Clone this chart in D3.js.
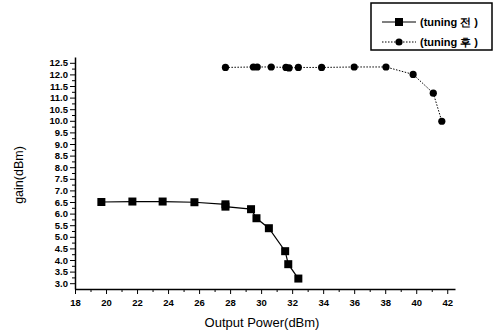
<!DOCTYPE html>
<html>
<head>
<meta charset="utf-8">
<script src="https://cdn.jsdelivr.net/npm/d3@7"></script>
<style>
  body { margin: 0; background: #fff; }
  svg { display: block; font-family: 'Liberation Sans', Arial, sans-serif; }
  .tick text { font-weight: bold; font-size: 9.5px; fill: #000; }
</style>
</head>
<body>
<svg id="chart" width="494" height="333"></svg>
<script>
// data
const beforeX = [19.7, 21.7, 23.65, 25.7, 27.7, 27.7, 29.35, 29.7, 30.5, 31.55, 31.75, 32.4];
const beforeY = [6.5, 6.52, 6.52, 6.49, 6.4, 6.3, 6.19, 5.8, 5.37, 4.38, 3.82, 3.2];
const afterX = [27.7, 29.5, 29.75, 30.65, 31.6, 31.8, 32.4, 33.9, 36.0, 38.05, 39.8, 41.1, 41.65];
const afterY = [12.3, 12.32, 12.32, 12.32, 12.3, 12.28, 12.3, 12.3, 12.32, 12.32, 12.0, 11.19, 9.98];
const seriesNames = ['(tuning 전 )', '(tuning 후 )'];
const xMajor = d3.range(18, 43, 2);
const xMinor = d3.range(19, 43, 2);
const yMajor = d3.range(3, 12.51, 0.5);
const yMinor = d3.range(3.25, 12.6, 0.5);

const svg = d3.select('#chart');
const x = d3.scaleLinear().domain([18, 42.5]).range([75, 455]);
const y = d3.scaleLinear().domain([2.75, 12.75]).range([289, 57]);

// axes
svg.append('g')
  .attr('transform', 'translate(0,289)')
  .call(d3.axisBottom(x).tickValues(xMajor).tickSize(5).tickSizeOuter(0).tickPadding(5).tickFormat(d3.format('d')))
  .call(g => g.select('.domain').attr('stroke-width', 1.5));
svg.append('g')
  .attr('transform', 'translate(0,289)')
  .call(d3.axisBottom(x).tickValues(xMinor).tickSize(3).tickFormat(''))
  .call(g => g.select('.domain').remove());

svg.append('g')
  .attr('transform', 'translate(75,0)')
  .call(d3.axisLeft(y).tickValues(yMajor).tickSize(5).tickSizeOuter(0).tickPadding(2).tickFormat(d3.format('.1f')))
  .call(g => g.select('.domain').attr('stroke-width', 1.5));
svg.append('g')
  .attr('transform', 'translate(75,0)')
  .call(d3.axisLeft(y).tickValues(yMinor).tickSize(3).tickFormat(''))
  .call(g => g.select('.domain').remove());

// axis titles
svg.append('text')
  .attr('x', 262).attr('y', 327)
  .attr('text-anchor', 'middle')
  .style('font-size', '13px')
  .text('Output Power(dBm)');
svg.append('text')
  .attr('transform', 'translate(23,175) rotate(-90)')
  .attr('text-anchor', 'middle')
  .style('font-size', '12.5px')
  .text('gain(dBm)');

// series
const before = beforeX.map((v, i) => [v, beforeY[i]]);
const after = afterX.map((v, i) => [v, afterY[i]]);
const line = d3.line().x(d => x(d[0])).y(d => y(d[1]));

svg.append('path').datum(before)
  .attr('d', line).attr('fill', 'none').attr('stroke', '#000').attr('stroke-width', 1.2);
svg.selectAll('rect.sq').data(before).enter().append('rect')
  .attr('class', 'sq')
  .attr('x', d => x(d[0]) - 4).attr('y', d => y(d[1]) - 4)
  .attr('width', 8).attr('height', 8).attr('fill', '#000');

svg.append('path').datum(after)
  .attr('d', line).attr('fill', 'none').attr('stroke', '#000').attr('stroke-width', 1)
  .attr('stroke-dasharray', '1.5,1.5');
svg.selectAll('circle.dot').data(after).enter().append('circle')
  .attr('class', 'dot')
  .attr('cx', d => x(d[0])).attr('cy', d => y(d[1]))
  .attr('r', 3.6).attr('fill', '#000');

// legend
const lg = svg.append('g');
lg.append('rect').attr('x', 371).attr('y', 3).attr('width', 121).attr('height', 47)
  .attr('fill', 'none').attr('stroke', '#000').attr('stroke-width', 1.5);
seriesNames.forEach((name, i) => {
  const ly = 22 + i * 20;
  lg.append('line').attr('x1', 382).attr('x2', 416).attr('y1', ly).attr('y2', ly)
    .attr('stroke', '#000').attr('stroke-width', 1)
    .attr('stroke-dasharray', i ? '1.5,1.5' : null);
  if (i === 0) {
    lg.append('rect').attr('x', 395).attr('y', ly - 4).attr('width', 8).attr('height', 8).attr('fill', '#000');
  } else {
    lg.append('circle').attr('cx', 399).attr('cy', ly).attr('r', 3.6).attr('fill', '#000');
  }
  lg.append('text').attr('x', 420).attr('y', ly + 4)
    .style('font-size', '11px').style('font-weight', 'bold')
    .text(name);
});
</script>
</body>
</html>
